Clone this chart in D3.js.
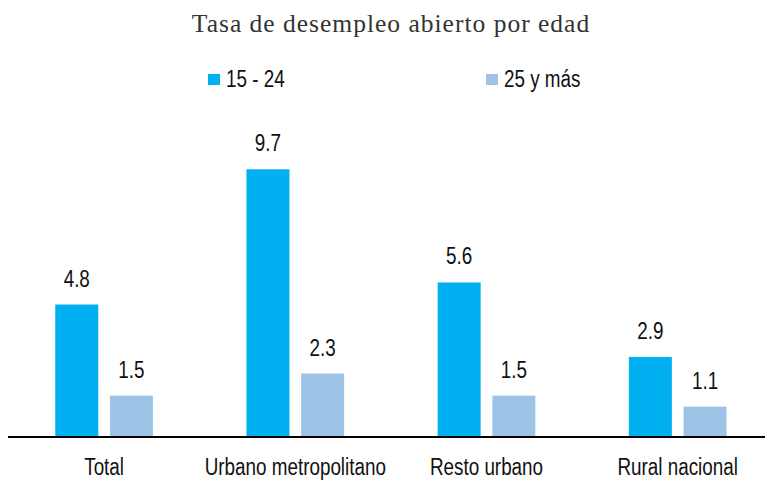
<!DOCTYPE html>
<html>
<head>
<meta charset="utf-8">
<script src="https://cdn.jsdelivr.net/npm/d3@7"></script>
<style>
  html, body { margin: 0; padding: 0; background: #fff; }
  svg { display: block; }
  .lbl { font-family: "Liberation Sans", Arial, sans-serif; font-size: 23px; fill: #111; }
  .title { font-family: "Liberation Serif", "Times New Roman", serif; font-size: 25.5px; fill: #333; letter-spacing: 1px; }
</style>
</head>
<body>
<svg id="chart" width="765" height="480"></svg>
<script>
// Unemployment rate by age group and area
const categories = ["Total", "Urbano metropolitano", "Resto urbano", "Rural nacional"];
const seriesNames = ["15 - 24", "25 y más"];
const youngValues = [4.8, 9.7, 5.6, 2.9];
const adultValues = [1.5, 2.3, 1.5, 1.1];
const seriesColors = ["#00B0F0", "#9DC3E6"];

// Condensed sans text: regular face squeezed horizontally
const narrow = 0.82;
const place = (px, py) => `translate(${px},${py}) scale(${narrow},1)`;

const rows = categories.map((c, i) => ({
  category: c,
  values: [
    { series: seriesNames[0], value: youngValues[i] },
    { series: seriesNames[1], value: adultValues[i] }
  ]
}));

const svg = d3.select("#chart");
const baseline = 437;

const x = d3.scaleBand().domain(categories).range([8.5, 773.3]).padding(0);
const xInner = d3.scaleBand().domain(seriesNames).range([0, x.bandwidth()])
  .paddingInner(0.214).paddingOuter(0.855);
const y = d3.scaleLinear().domain([0, 10]).range([baseline, 161]);
const color = d3.scaleOrdinal().domain(seriesNames).range(seriesColors);

// Title
svg.append("text").attr("class", "title")
  .attr("x", 391).attr("y", 32)
  .attr("text-anchor", "middle")
  .text("Tasa de desempleo abierto por edad");

// Legend
const legendX = [208, 486];
const legend = svg.append("g");
seriesNames.forEach((s, i) => {
  legend.append("rect")
    .attr("x", legendX[i]).attr("y", 74)
    .attr("width", 12).attr("height", 11)
    .attr("fill", color(s));
  legend.append("text").attr("class", "lbl")
    .attr("transform", place(legendX[i] + 18, 87))
    .text(s);
});

// Bars and value labels
const groups = svg.append("g").selectAll("g")
  .data(rows).join("g")
  .attr("transform", d => `translate(${x(d.category)},0)`);

groups.selectAll("rect")
  .data(d => d.values).join("rect")
  .attr("x", d => xInner(d.series))
  .attr("y", d => y(d.value))
  .attr("width", xInner.bandwidth())
  .attr("height", d => y(0) - y(d.value))
  .attr("fill", d => color(d.series));

groups.selectAll("text.val")
  .data(d => d.values).join("text")
  .attr("class", "lbl val")
  .attr("transform", d => place(xInner(d.series) + xInner.bandwidth() / 2, y(d.value) - 18))
  .attr("text-anchor", "middle")
  .text(d => d3.format(".1f")(d.value));

// Category axis
const xAxis = svg.append("g")
  .attr("transform", `translate(0,${baseline})`)
  .call(d3.axisBottom(x).tickSize(0).tickPadding(0));
xAxis.select(".domain")
  .attr("d", "M8,0H765")
  .attr("stroke", "#000")
  .attr("stroke-width", 2);
xAxis.selectAll(".tick text")
  .attr("class", "lbl")
  .attr("font-family", null)
  .attr("font-size", null)
  .attr("fill", null)
  .attr("dy", null)
  .attr("y", 0)
  .attr("transform", place(0, 38));
</script>
</body>
</html>
